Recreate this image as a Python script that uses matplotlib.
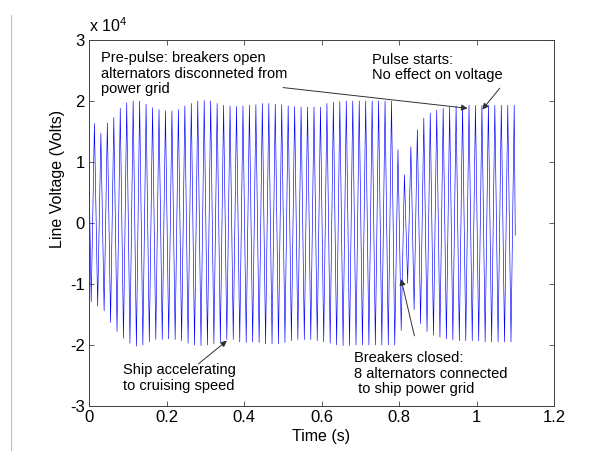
import numpy as np
import matplotlib
matplotlib.use('Agg')
import matplotlib.pyplot as plt
from matplotlib.lines import Line2D

plt.rcParams['font.family'] = ['Liberation Sans', 'DejaVu Sans']
plt.rcParams['axes.unicode_minus'] = False

# line voltage, units of 1e4 V: positive peak and negative trough of each 60 Hz cycle
scale = 1e4
freq = 60.0
t_first_peak = 0.014
v_start = 0.87
t_end, v_end = 1.1, -0.2

peaks = [1.63, 1.47, 1.64, 1.73, 1.88, 1.97, 2.00, 2.00, 1.95, 1.89,
         1.86, 1.84, 1.84, 1.86, 1.92, 1.96, 2.00, 2.01, 2.00, 1.96,
         1.93, 1.92, 1.91, 1.92, 1.93, 1.94, 1.96, 1.96, 1.95, 1.94,
         1.92, 1.91, 1.90, 1.90, 1.90, 1.90, 1.96, 1.98, 1.99, 2.00,
         2.00, 2.00, 2.00, 2.00, 2.00, 2.00, 2.00, 1.20, 0.79, 1.25,
         1.53, 1.72, 1.80, 1.85, 1.88, 1.90, 1.92, 1.92, 1.93, 1.93,
         1.93, 1.93, 1.93, 1.93, 1.93, 1.93]
troughs = [-1.29, -1.36, -1.44, -1.63, -1.78, -1.89, -1.97, -2.02, -2.00, -1.95,
           -1.91, -1.91, -1.90, -1.91, -1.93, -1.97, -2.00, -2.01, -2.00, -1.98,
           -1.95, -1.91, -1.91, -1.95, -1.96, -1.95, -1.96, -1.98, -1.98, -1.98,
           -1.96, -1.93, -1.91, -1.91, -1.91, -1.93, -1.95, -1.97, -2.00, -2.01,
           -2.01, -2.00, -2.00, -2.00, -2.00, -2.00, -2.00, -2.00, -1.76, -0.99,
           -1.42, -1.65, -1.78, -1.84, -1.87, -1.90, -1.92, -1.93, -1.93, -1.93,
           -1.93, -1.95, -1.95, -1.95, -1.95, -1.95]

xticks = [0, 0.2, 0.4, 0.6, 0.8, 1.0, 1.2]
xticklabels = ['0', '0.2', '0.4', '0.6', '0.8', '1', '1.2']
yticks = [-3, -2, -1, 0, 1, 2, 3]

# time of each extremum, trough half a cycle before its peak
t_pk = t_first_peak + np.arange(len(peaks)) / freq
t_tr = t_pk - 0.5 / freq
t = np.concatenate([[0.0], np.column_stack([t_tr, t_pk]).ravel(), [t_end]])
v = np.concatenate([[v_start], np.column_stack([troughs, peaks]).ravel(), [v_end]]) * scale

fig = plt.figure(figsize=(6.02, 4.51), dpi=100)
ax = fig.add_axes([89 / 602, 45 / 451, 465 / 602, 366 / 451])
ax.plot(t, v, color='#0000ff', lw=0.45)

ax.set_xlim(0, 1.2)
ax.set_ylim(-3 * scale, 3 * scale)
ax.set_xticks(xticks)
ax.set_xticklabels(xticklabels)
ax.set_yticks([y * scale for y in yticks])
ax.set_yticklabels([str(y) for y in yticks])
ax.tick_params(direction='in', length=3.5, width=0.6, labelsize=12,
               top=True, right=True, color='#404040', pad=3)
for s in ax.spines.values():
    s.set_linewidth(0.7)
    s.set_color('#404040')

ax.set_xlabel('Time (s)', fontsize=11.5, labelpad=3)
ax.set_ylabel('Line Voltage (Volts)', fontsize=11.5)
ax.yaxis.set_label_coords(-0.052, 0.62)
ax.text(0.0, 1.014, r'x $\mathregular{10^4}$', transform=ax.transAxes,
        fontsize=11.5, ha='left', va='bottom')

arrow = dict(arrowstyle='-|>', color='#303030', lw=0.7, mutation_scale=9,
             shrinkA=0, shrinkB=0)
note = dict(fontsize=10.5, ha='left', va='top', linespacing=1.15)

ax.text(0.030, 2.82 * scale, 'Pre-pulse: breakers open\nalternators disconneted from\npower grid', **note)
ax.annotate('', xy=(0.977, 1.88 * scale), xytext=(0.501, 2.22 * scale), arrowprops=arrow)

ax.text(0.7305, 2.79 * scale, 'Pulse starts:\nNo effect on voltage', **note)
ax.annotate('', xy=(1.015, 1.86 * scale), xytext=(1.060, 2.21 * scale), arrowprops=arrow)

ax.text(0.087, -2.30 * scale, 'Ship accelerating\nto cruising speed', **note)
ax.annotate('', xy=(0.3558, -1.93 * scale), xytext=(0.2824, -2.31 * scale), arrowprops=arrow)

ax.text(0.6848, -2.10 * scale, 'Breakers closed:\n8 alternators connected\n to ship power grid', **note)
ax.annotate('', xy=(0.8054, -0.92 * scale), xytext=(0.8398, -1.85 * scale), arrowprops=arrow)

# thin page rule at the left edge
fig.add_artist(Line2D([11 / 602, 11 / 602], [0, 1 - 15 / 451],
                      transform=fig.transFigure, color='#c0c0c0', lw=0.8))

fig.savefig('out.png', dpi=100)
